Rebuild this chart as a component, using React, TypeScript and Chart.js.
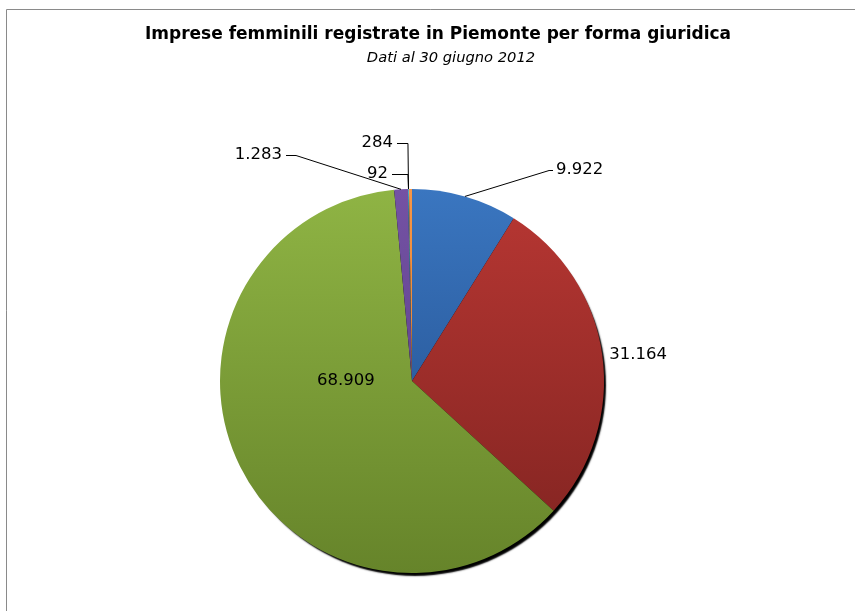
import React, { useEffect, useRef } from 'react';
import { Chart, registerables } from 'chart.js';

Chart.register(...registerables);

const titleText = 'Imprese femminili registrate in Piemonte per forma giuridica';
const subtitleText = 'Dati al 30 giugno 2012';
const categories = [
  'Società di capitale',
  'Società di persone',
  'Imprese individuali',
  'Cooperative',
  'Consorzi',
  'Altre forme',
];
const values = [9922, 31164, 68909, 1283, 92, 284];
const topColors = ['#3a76c0', '#b83733', '#8fb444', '#7452a4', '#4bacc6', '#f79646'];
const bottomColors = ['#1f4884', '#7f2320', '#66842a', '#553a80', '#2f7f96', '#d8731f'];

const fmt = (n: number) => n.toString().replace(/\B(?=(\d{3})+(?!\d))/g, '.');

const LABEL_FONT = '16.5px "DejaVu Sans"';

// label placement, relative to pie centre in units of radius
type Place =
  | { kind: 'inside'; dx: number; dy: number }
  | { kind: 'edge' }
  | { kind: 'leader'; tx: number; ty: number; ex: number; side: 'left' | 'right' };

const placements: Place[] = [
  { kind: 'leader', tx: 0.75, ty: -1.099, ex: 0.714, side: 'right' },
  { kind: 'edge' },
  { kind: 'inside', dx: -0.344, dy: 0 },
  { kind: 'leader', tx: -0.677, ty: -1.177, ex: -0.604, side: 'left' },
  { kind: 'leader', tx: -0.125, ty: -1.078, ex: -0.021, side: 'left' },
  { kind: 'leader', tx: -0.099, ty: -1.24, ex: -0.021, side: 'left' },
];

const framePlugin = {
  id: 'frame',
  beforeDraw(chart: any) {
    const { ctx, width, height } = chart;
    ctx.save();
    ctx.fillStyle = '#ffffff';
    ctx.fillRect(0, 0, width, height);
    ctx.strokeStyle = '#8a8a8a';
    ctx.lineWidth = 1;
    ctx.beginPath();
    ctx.moveTo(6.5, height);
    ctx.lineTo(6.5, 9.5);
    ctx.lineTo(width, 9.5);
    ctx.stroke();
    ctx.fillStyle = '#000000';
    ctx.textAlign = 'center';
    ctx.textBaseline = 'middle';
    ctx.font = 'bold 17px "DejaVu Sans"';
    ctx.fillText(titleText, 438, 35);
    ctx.font = 'oblique 14.7px "DejaVu Sans"';
    ctx.fillText(subtitleText, 451, 58);
    ctx.restore();
  },
};

const shadowPlugin = {
  id: 'pieShadow',
  beforeDatasetsDraw(chart: any) {
    const el = chart.getDatasetMeta(0).data[0];
    if (!el) return;
    const { x, y, outerRadius } = el;
    const ctx = chart.ctx;
    ctx.save();
    ctx.shadowColor = 'rgba(0,0,0,1)';
    ctx.shadowOffsetX = 3;
    ctx.shadowOffsetY = 4;
    ctx.shadowBlur = 1.5;
    ctx.fillStyle = '#000';
    ctx.beginPath();
    ctx.arc(x, y, outerRadius - 1, 0, Math.PI * 2);
    ctx.fill();
    ctx.restore();
  },
};

const labelPlugin = {
  id: 'pieLabels',
  afterDatasetsDraw(chart: any) {
    const meta = chart.getDatasetMeta(0);
    const ctx = chart.ctx;
    ctx.save();
    ctx.font = LABEL_FONT;
    ctx.fillStyle = '#000';
    ctx.strokeStyle = '#000';
    ctx.lineWidth = 1;
    ctx.textBaseline = 'middle';
    meta.data.forEach((arc: any, i: number) => {
      const { x, y, outerRadius: r, startAngle, endAngle } = arc;
      const mid = (startAngle + endAngle) / 2;
      const text = fmt(values[i]);
      const p = placements[i];
      const edgeX = x + r * Math.cos(mid);
      const edgeY = y + r * Math.sin(mid);
      if (p.kind === 'inside') {
        ctx.textAlign = 'center';
        ctx.fillText(text, x + p.dx * r, y + p.dy * r);
      } else if (p.kind === 'edge') {
        ctx.textAlign = 'left';
        ctx.fillText(text, edgeX + 7, edgeY);
      } else {
        const ty = y + p.ty * r;
        const tx = x + p.tx * r;
        const elbowX = x + p.ex * r;
        ctx.beginPath();
        if (p.side === 'right') {
          ctx.moveTo(edgeX, edgeY);
          ctx.lineTo(elbowX, Math.round(ty) + 0.5);
          ctx.lineTo(tx - 3, Math.round(ty) + 0.5);
        } else {
          ctx.moveTo(tx + 4, Math.round(ty) + 0.5);
          ctx.lineTo(elbowX, Math.round(ty) + 0.5);
          if (Math.abs(elbowX - edgeX) < 6) {
            ctx.lineTo(Math.round(elbowX) + 0.5, edgeY);
          } else {
            ctx.lineTo(edgeX, edgeY);
          }
        }
        ctx.stroke();
        ctx.textAlign = p.side === 'right' ? 'left' : 'right';
        ctx.fillText(text, tx, ty);
      }
    });
    ctx.restore();
  },
};

export default function App() {
  const ref = useRef<HTMLCanvasElement>(null);
  useEffect(() => {
    if (!ref.current) return;
    const chart = new Chart(ref.current, {
      type: 'pie',
      data: {
        labels: categories,
        datasets: [
          {
            data: values,
            borderWidth: 0,
            backgroundColor: (c: any) => {
              const chart = c.chart;
              const area = chart.chartArea;
              const i = c.dataIndex;
              if (!area || i === undefined) return topColors[i ?? 0];
              const cy = (area.top + area.bottom) / 2;
              const r = Math.min(area.right - area.left, area.bottom - area.top) / 2;
              const g = chart.ctx.createLinearGradient(0, cy - r, 0, cy + r);
              g.addColorStop(0, topColors[i]);
              g.addColorStop(1, bottomColors[i]);
              return g;
            },
          },
        ],
      },
      options: {
        animation: false,
        responsive: false,
        devicePixelRatio: 1,
        rotation: 0,
        layout: { padding: { top: 189, bottom: 38, left: 220, right: 251 } },
        plugins: {
          legend: { display: false },
          tooltip: { enabled: false },
          title: { display: false },
        },
      },
      plugins: [framePlugin, shadowPlugin, labelPlugin],
    });
    return () => chart.destroy();
  }, []);
  return (
    <div style={{ position: 'absolute', left: 0, top: 0, width: 855, height: 611 }}>
      <canvas ref={ref} width={855} height={611} style={{ display: 'block' }} />
    </div>
  );
}
